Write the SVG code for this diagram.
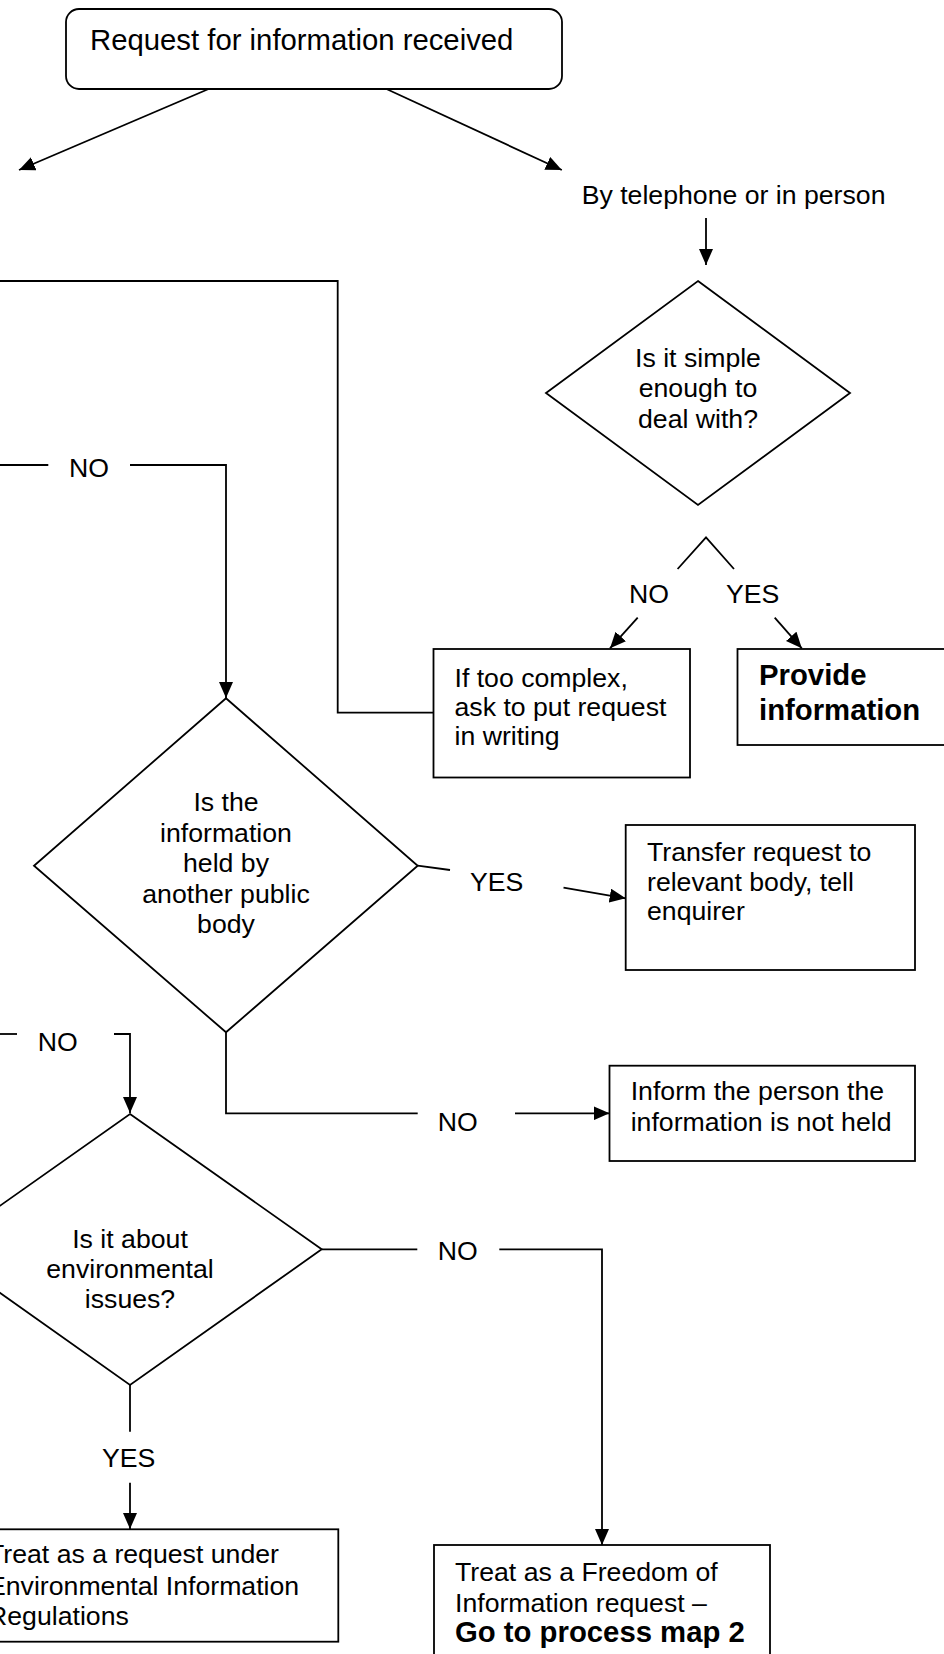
<svg xmlns="http://www.w3.org/2000/svg" width="944" height="1654" viewBox="0 0 944 1654">
<style>
text{font-family:"Liberation Sans",Arial,"Helvetica",sans-serif;font-size:26.67px;fill:#000}
.b{font-weight:bold;font-size:29.3px}
.big{font-size:29.3px}
.c{text-anchor:middle}
.s{fill:#fff;stroke:#000;stroke-width:1.8}
.l{fill:none;stroke:#000;stroke-width:1.8}
.a{fill:none;stroke:#000;stroke-width:1.8;marker-end:url(#ah)}
</style>
<defs>
<marker id="ah" markerUnits="userSpaceOnUse" markerWidth="16" markerHeight="14" viewBox="0 0 16 14" refX="16" refY="7" orient="auto">
<path d="M0,0 L16,7 L0,14 z" fill="#000"/>
</marker>
</defs>
<rect width="944" height="1654" fill="#fff"/>
<g id="connectors">
<line class="a" x1="208.6" y1="89" x2="19" y2="170"/>
<line class="a" x1="386.5" y1="89" x2="561.8" y2="170"/>
<line class="a" x1="706" y1="218" x2="706" y2="265"/>
<polyline class="l" points="677.6,569 706,537.3 734,569"/>
<line class="a" x1="637.7" y1="617.7" x2="610" y2="648.3"/>
<line class="a" x1="774.7" y1="617.7" x2="801.8" y2="648.3"/>
<polyline class="l" points="0,281 337.7,281 337.7,712.7 433.5,712.7"/>
<line class="l" x1="0" y1="465" x2="48.3" y2="465"/>
<polyline class="a" points="130,465 226,465 226,698"/>
<line class="l" x1="417.7" y1="865.7" x2="450" y2="870"/>
<line class="a" x1="563.5" y1="887.7" x2="625.7" y2="898.3"/>
<polyline class="l" points="226,1032.3 226,1113.3 417.7,1113.3"/>
<line class="a" x1="515" y1="1113.3" x2="609.5" y2="1113.3"/>
<line class="l" x1="0" y1="1034" x2="17" y2="1034"/>
<polyline class="a" points="114,1034 130,1034 130,1113"/>
<line class="l" x1="321.7" y1="1249.3" x2="417.3" y2="1249.3"/>
<polyline class="a" points="499.3,1249.3 602,1249.3 602,1545"/>
<line class="l" x1="130" y1="1385" x2="130" y2="1431.7"/>
<line class="a" x1="130" y1="1482.7" x2="130" y2="1529"/>
</g>
<g id="labels">
<text x="629" y="603">NO</text>
<text x="726" y="603">YES</text>
<text x="69" y="476.7">NO</text>
<text x="470" y="890.7">YES</text>
<text x="437.7" y="1131">NO</text>
<text x="37.7" y="1051">NO</text>
<text x="437.7" y="1260">NO</text>
<text x="102" y="1467.3">YES</text>
</g>
<g id="start">
<rect class="s" x="66" y="9" width="496" height="80" rx="13"/>
<text class="big" x="90" y="50">Request for information received</text>
</g>
<g id="phone">
<text x="581.7" y="204">By telephone or in person</text>
</g>
<g id="simple">
<polygon class="s" points="698,281 850,393 698,505 546,393"/>
<text class="c" x="698" y="366.7">Is it simple</text>
<text class="c" x="698" y="397.3">enough to</text>
<text class="c" x="698" y="428.3">deal with?</text>
</g>
<g id="complex">
<rect class="s" x="433.5" y="649" width="256.5" height="128.5"/>
<text x="454.5" y="686.5">If too complex,</text>
<text x="454.5" y="715.5">ask to put request</text>
<text x="454.5" y="744.5">in writing</text>
</g>
<g id="provide">
<rect class="s" x="737.5" y="649" width="220" height="96"/>
<text class="b" x="759" y="685">Provide</text>
<text class="b" x="759" y="720">information</text>
</g>
<g id="held">
<polygon class="s" points="226,698.3 417.7,865.7 226,1032.3 34,865.7"/>
<text class="c" x="226" y="810.7">Is the</text>
<text class="c" x="226" y="841.7">information</text>
<text class="c" x="226" y="872.3">held by</text>
<text class="c" x="226" y="902.7">another public</text>
<text class="c" x="226" y="932.7">body</text>
</g>
<g id="transfer">
<rect class="s" x="625.7" y="825" width="289.3" height="145"/>
<text x="647" y="861">Transfer request to</text>
<text x="647" y="891">relevant body, tell</text>
<text x="647" y="920">enquirer</text>
</g>
<g id="inform">
<rect class="s" x="609.5" y="1065.7" width="305.5" height="95.3"/>
<text x="630.7" y="1100">Inform the person the</text>
<text x="630.7" y="1131">information is not held</text>
</g>
<g id="environ">
<polygon class="s" points="130,1114 321.7,1249.3 130,1385 -61.7,1249.3"/>
<text class="c" x="130" y="1247.7">Is it about</text>
<text class="c" x="130" y="1278.3">environmental</text>
<text class="c" x="130" y="1308.3">issues?</text>
</g>
<g id="eir">
<rect class="s" x="-20" y="1529.3" width="358.3" height="112.4"/>
<text x="-12" y="1563.3">Treat as a request under</text>
<text x="-12" y="1595">Environmental Information</text>
<text x="-12" y="1625">Regulations</text>
</g>
<g id="foi">
<rect class="s" x="434" y="1545" width="336" height="130"/>
<text x="455" y="1581">Treat as a Freedom of</text>
<text x="455" y="1611.7">Information request –</text>
<text class="b" x="455" y="1641.7">Go to process map 2</text>
</g>
</svg>
